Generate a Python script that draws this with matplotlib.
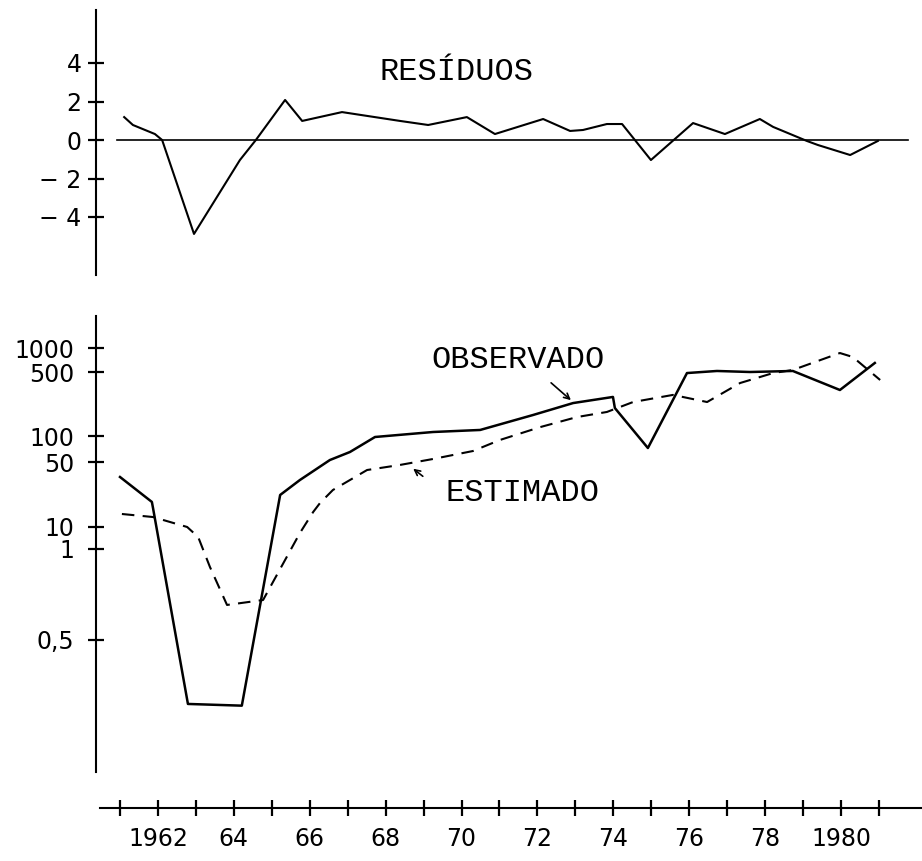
import matplotlib

matplotlib.use("Agg")
import matplotlib.pyplot as plt
import numpy as np

# Residuals (top panel)
resid_years = [1961.11, 1961.34, 1961.92, 1962.11, 1962.95, 1964.16, 1964.58,
               1965.35, 1965.80, 1966.85, 1968.38, 1969.12, 1970.14, 1970.88,
               1972.15, 1972.86, 1973.20, 1973.83, 1974.23, 1974.99, 1976.10,
               1976.94, 1977.86, 1978.21, 1979.10, 1979.39, 1980.24, 1980.97]
resid_values = [1.19, 0.78, 0.31, 0.0, -4.88, -1.04, 0.0,
                2.08, 0.99, 1.45, 0.99, 0.78, 1.19, 0.31,
                1.09, 0.47, 0.52, 0.83, 0.83, -1.04, 0.88,
                0.31, 1.09, 0.68, -0.05, -0.26, -0.78, -0.05]

# Observed series (solid line)
obs_years = [1961.00, 1961.84, 1961.87, 1962.79, 1964.21, 1965.22, 1965.74,
             1966.53, 1967.06, 1967.72, 1969.25, 1970.49, 1971.88, 1972.94,
             1973.99, 1974.04, 1974.91, 1975.94, 1976.73, 1977.60, 1978.73,
             1979.97, 1980.89]
obs_values = [34.5, 18.6, 16.0, 0.307, 0.303, 22.1, 32.0,
              52.7, 65.3, 97.4, 110.6, 116.4, 169.4, 229,
              267, 202, 72.6, 487, 515, 500, 515,
              318, 649]

# Estimated series (dashed line)
est_years = [1961.05, 1961.87, 1962.77, 1963.06, 1963.37, 1963.82, 1964.77,
             1965.74, 1966.09, 1966.27, 1966.61, 1967.51, 1968.38, 1969.25,
             1970.30, 1971.01, 1972.07, 1973.04, 1973.83, 1974.52, 1975.57,
             1976.47, 1977.34, 1978.21, 1978.73, 1979.97, 1980.31, 1981.03]
est_values = [13.8, 12.8, 10.0, 3.5, 0.872, 0.653, 0.678,
              5.3, 14.5, 18.1, 25.0, 41.0, 46.5, 54.2,
              67.0, 89.9, 125, 161, 183, 235, 281,
              235, 379, 487, 530, 865, 771, 409]

resid_ticks = [-4, -2, 0, 2, 4]
level_ticks = [0.5, 1, 10, 50, 100, 500, 1000]
level_tick_labels = ["0,5", "1", "10", "50", "100", "500", "1000"]
year_ticks = list(range(1961, 1982))
year_tick_labels = {1962: "1962", 1964: "64", 1966: "66", 1968: "68",
                    1970: "70", 1972: "72", 1974: "74", 1976: "76",
                    1978: "78", 1980: "1980"}

# The drawn value axis is not a true log scale: each labelled value sits
# at its own height, so map values to drawing height piecewise (in log).
scale_values = [0.1, 0.5, 1, 10, 50, 100, 500, 1000, 10000]
scale_heights = [-851, -640, -549, -527, -462, -436, -372, -348, -268]

W, H = 922, 861
LOG_VALS = np.log10(scale_values)


def forward(v):
    v = np.clip(np.asarray(v, dtype=float), 1e-9, None)
    return np.interp(np.log10(v), LOG_VALS, scale_heights)


def inverse(h):
    return 10 ** np.interp(np.asarray(h, dtype=float), scale_heights, LOG_VALS)


def rect(x0, y0, x1, y1):
    """Axes rectangle from pixel corners (top-left origin)."""
    return [x0 / W, 1 - y1 / H, (x1 - x0) / W, (y1 - y0) / H]


def style_axes(ax, pad):
    for side in ["top", "right", "bottom"]:
        ax.spines[side].set_visible(False)
    ax.spines["left"].set_linewidth(1.5)
    ax.set_xticks([])
    ax.tick_params(axis="y", direction="inout", length=11, width=1.6,
                   labelsize=17, pad=pad)


def main():
    plt.rcParams["font.family"] = ["DejaVu Sans"]
    fig = plt.figure(figsize=(W / 100, H / 100), dpi=100)
    xlim = (1961 - 24 / 37.95, 1961 + 802 / 37.95)

    # Top panel: residuals
    ax_res = fig.add_axes(rect(96, 10, 922, 275))
    ax_res.plot(resid_years, resid_values, color="black", lw=1.5)
    ax_res.axhline(0, xmin=21 / 826, xmax=812 / 826, color="black", lw=1.2)
    ax_res.set_xlim(*xlim)
    ax_res.set_ylim(-135 / 19.25, 130 / 19.25)
    ax_res.set_yticks(resid_ticks)
    ax_res.set_yticklabels([str(t).replace("-", "− ") for t in resid_ticks])
    style_axes(ax_res, pad=5)

    # Bottom panel: observed vs estimated
    ax_lvl = fig.add_axes(rect(96, 316, 922, 772))
    ax_lvl.set_yscale("function", functions=(forward, inverse))
    ax_lvl.plot(obs_years, obs_values, color="black", lw=1.8)
    ax_lvl.plot(est_years, est_values, color="black", lw=1.5,
                linestyle=(0, (6, 4)))
    ax_lvl.set_xlim(*xlim)
    ax_lvl.set_ylim(float(inverse(-772)), float(inverse(-316)))
    ax_lvl.set_yticks(level_ticks)
    ax_lvl.set_yticklabels(level_tick_labels)
    ax_lvl.minorticks_off()
    style_axes(ax_lvl, pad=10)

    # Year axis drawn separately below the panels
    ax_yr = fig.add_axes(rect(96, 807, 922, 808))
    ax_yr.set_xlim(*xlim)
    for side in ["top", "right", "left"]:
        ax_yr.spines[side].set_visible(False)
    ax_yr.spines["bottom"].set_linewidth(1.5)
    ax_yr.spines["bottom"].set_bounds(1961 - 20 / 37.95, xlim[1])
    ax_yr.set_yticks([])
    ax_yr.set_xticks(year_ticks)
    ax_yr.set_xticklabels([year_tick_labels.get(y, "") for y in year_ticks])
    ax_yr.tick_params(axis="x", direction="inout", length=12, width=1.6,
                      labelsize=17, pad=8)

    mono = "Liberation Mono"
    fig.text(456 / W, 1 - 72 / H, "RESÍDUOS", family=mono, fontsize=23,
             ha="center", va="center")
    fig.text(518 / W, 1 - 360 / H, "OBSERVADO", family=mono, fontsize=23,
             ha="center", va="center")
    fig.text(522 / W, 1 - 493 / H, "ESTIMADO", family=mono, fontsize=23,
             ha="center", va="center")

    arrow = dict(arrowstyle="->", color="black", lw=1.2, mutation_scale=10)
    fig.add_artist(matplotlib.patches.FancyArrowPatch(
        (549 / W, 1 - 381 / H), (573 / W, 1 - 402 / H),
        transform=fig.transFigure, **arrow))
    fig.add_artist(matplotlib.patches.FancyArrowPatch(
        (425 / W, 1 - 478 / H), (411 / W, 1 - 467 / H),
        transform=fig.transFigure, **arrow))

    fig.savefig("out.png", dpi=100)
    plt.close(fig)


if __name__ == "__main__":
    main()
